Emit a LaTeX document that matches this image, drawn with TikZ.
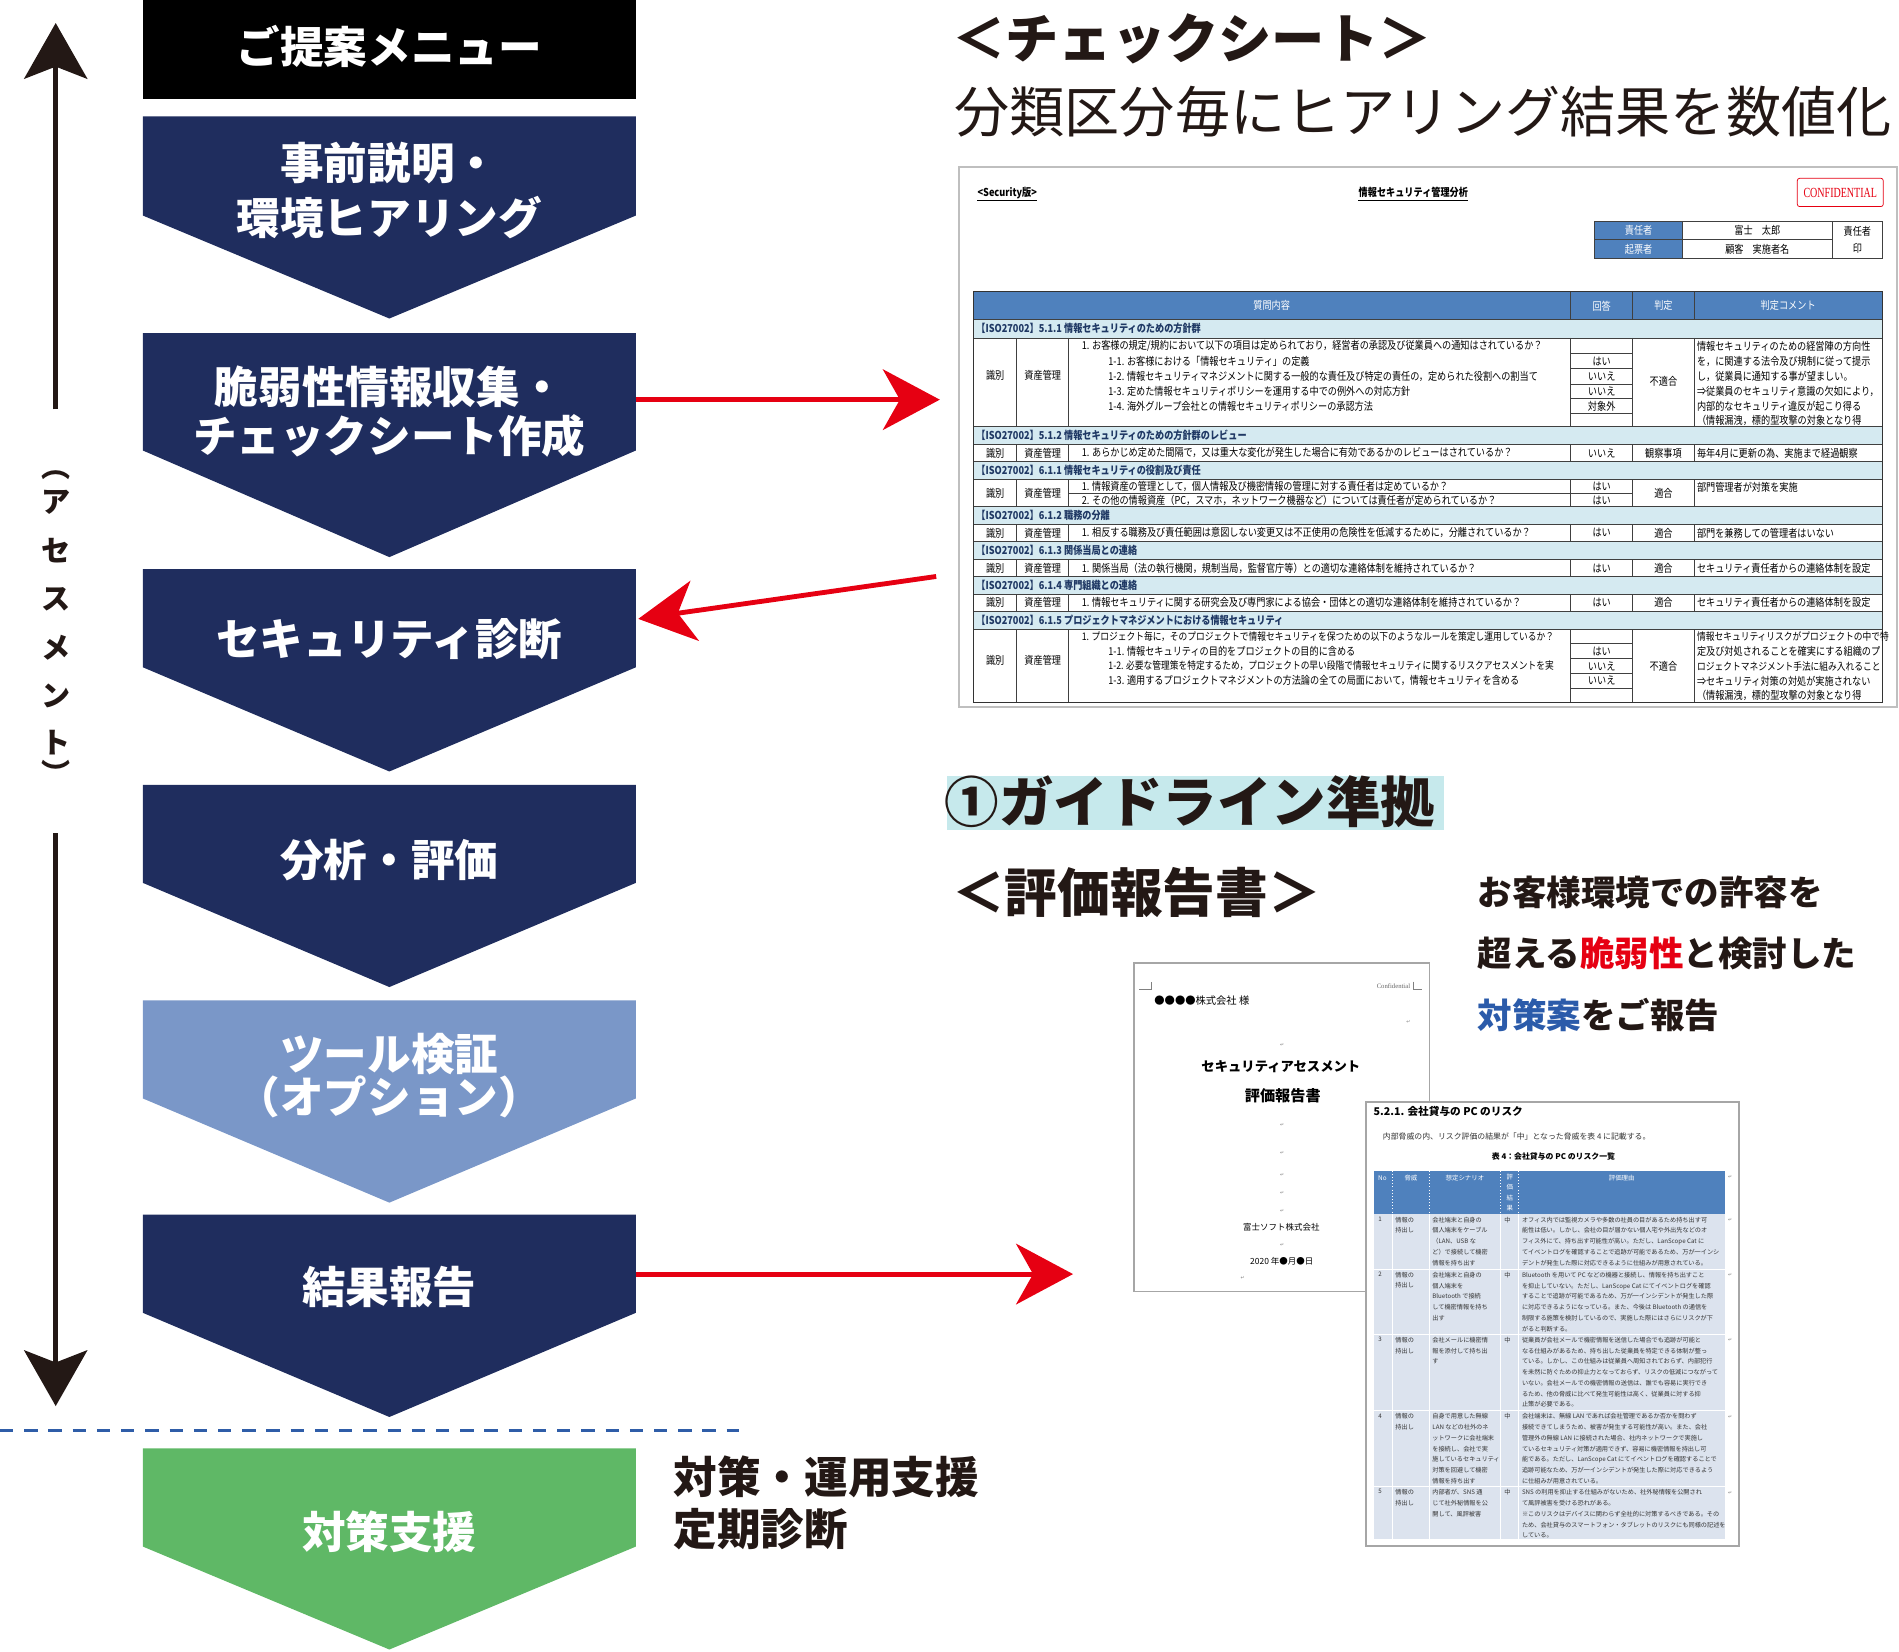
\documentclass[tikz,border=0pt]{standalone}
\usepackage{fontspec}
\setmainfont{Noto Sans CJK JP}
\newfontfamily\jpc{Noto Sans CJK JP}[FakeStretch=0.84]
\newfontfamily\conff{Liberation Serif}[FakeStretch=0.72]
\newfontfamily\serf{Liberation Serif}
\newfontfamily\symf{DejaVu Sans}
\usetikzlibrary{arrows.meta}
\newcommand\myfs[2]{\fontsize{#1}{#2}\selectfont}
\definecolor{navy}{HTML}{1F2D5E}
\definecolor{lblue}{HTML}{7A97C8}
\definecolor{grn}{HTML}{5FB866}
\definecolor{redA}{HTML}{E60012}
\definecolor{blk}{HTML}{231815}
\definecolor{blueT}{HTML}{2B5BAA}
\definecolor{cyanbg}{HTML}{C6E9EC}
\definecolor{hdrblue}{HTML}{4F81BD}
\definecolor{secbg}{HTML}{D5EAF1}
\definecolor{secblue}{HTML}{1F3864}
\definecolor{rowbg}{HTML}{DCE3EE}
\definecolor{dashblue}{HTML}{2F5DA8}
\definecolor{pgborder}{HTML}{A6A6A6}
\tikzset{
 chevtxt/.style={text=white, font=\bfseries\myfs{36}{45}, align=center, inner sep=0pt},
 redarr/.style={draw=redA, line width=4pt, -{Stealth[length=47pt,width=50pt,inset=14pt]}},
 blkarr/.style={draw=blk, line width=4.5pt, -{Stealth[length=46pt,width=52pt,inset=10pt]}},
 cst/.style={font=\jpc\myfs{9}{11}, inner sep=0pt, text=black},
 csw/.style={cst, anchor=west},
 cswn/.style={csw, font=\jpc\myfs{8.6}{11}},
 secT/.style={font=\jpc\bfseries\myfs{9}{11}, text=secblue, anchor=west, inner sep=0pt},
 gridl/.style={draw=black!75, line width=0.6pt},
 pg/.style={font=\myfs{5.1}{8.9}, inner sep=0pt, anchor=north west, align=left, text=black!80},
 pgh/.style={font=\myfs{5.3}{8.5}, inner sep=0pt, text=white},
 rmkS/.style={font=\symf\myfs{4}{5}, text=gray, inner sep=0pt},
 vtxt/.style={font=\bfseries\myfs{24}{24}, text=blk, inner sep=0pt},
 bigT/.style={font=\bfseries\myfs{44}{50}, text=blk, inner sep=0pt, anchor=west},
 desc/.style={font=\bfseries\myfs{28.5}{30}, text=blk, inner sep=0pt, anchor=west},
}
\begin{document}
\begin{tikzpicture}[x=1pt,y=-1pt]
\useasboundingbox (0,0) rectangle (1568,1364);

% ---------------- left column ----------------
\fill[black] (118,0) rectangle (525,82);
\node[chevtxt] (hdr) at (321.5,38) {ご提案メニュー};

\fill[navy] (118,96) -- (525,96) -- (525,178) -- (321.5,263) -- (118,178) -- cycle;
\fill[navy] (118,275) -- (525,275) -- (525,372) -- (321.5,460) -- (118,372) -- cycle;
\fill[navy] (118,470) -- (525,470) -- (525,551) -- (321.5,637) -- (118,551) -- cycle;
\fill[navy] (118,648) -- (525,648) -- (525,729) -- (321.5,815) -- (118,729) -- cycle;
\fill[lblue] (118,826) -- (525,826) -- (525,907) -- (321.5,993) -- (118,907) -- cycle;
\fill[navy] (118,1003) -- (525,1003) -- (525,1084) -- (321.5,1170) -- (118,1084) -- cycle;
\fill[grn] (118,1196) -- (525,1196) -- (525,1277) -- (321.5,1362) -- (118,1277) -- cycle;

\node[chevtxt] (c1) at (321.5,157.5) {事前説明・\\環境ヒアリング};
\node[chevtxt, font=\bfseries\myfs{36}{40}] (c2) at (321.5,340) {脆弱性情報収集・\\チェックシート作成};
\node[chevtxt] (c3) at (321.5,528) {セキュリティ診断};
\node[chevtxt] (c4) at (321.5,710) {分析・評価};
\node[chevtxt, font=\bfseries\myfs{36}{34}] (c5) at (321.5,888) {ツール検証\\（オプション）};
\node[chevtxt] (c6) at (321.5,1063) {結果報告};
\node[chevtxt] (c7) at (321.5,1265) {対策支援};

\node[font=\bfseries\myfs{36}{43}, text=blk, align=left, anchor=west, inner sep=0pt] (ops) at (556,1241) {対策・運用支援\\定期診断};

% vertical arrows
\coordinate (up0) at (46,338); \coordinate (up1) at (46,19);
\coordinate (dn0) at (46,688); \coordinate (dn1) at (46,1161);
\draw[blkarr] (up0) -- (up1);
\draw[blkarr] (dn0) -- (dn1);
\node[vtxt] (v0) at (46,392) {︵};
\node[vtxt] (v1) at (46,415) {ア};
\node[vtxt] (v2) at (46,455) {セ};
\node[vtxt] (v3) at (46,495) {ス};
\node[vtxt] (v4) at (46,535) {メ};
\node[vtxt] (v5) at (46,575) {ン};
\node[vtxt] (v6) at (46,613) {ト};
\node[vtxt] (v7) at (46,638) {︶};

% dashed separator
\coordinate (d0) at (0,1181); \coordinate (d1) at (610,1181);
\draw[dashblue, line width=2.2pt, dash pattern=on 11pt off 9pt] (d0) -- (d1);

% ---------------- headings right ----------------
\node[bigT] (t1) at (786,32) {＜チェックシート＞};
\node[font=\myfs{45.5}{50}, text=blk, inner sep=0pt, anchor=west] (t2) at (788,92) {分類区分毎にヒアリング結果を数値化};
\fill[cyanbg] (782,641) rectangle (1192,685);
\node[bigT, font=\bfseries\myfs{45}{50}] (gl) at (780,662) {①ガイドライン準拠};
\node[bigT, font=\bfseries\myfs{43.5}{50}] (t3) at (786,737) {＜評価報告書＞};
\node[desc] (e1) at (1220,737) {お客様環境での許容を};
\node[desc] (e2) at (1220,787) {超える{\color{redA}脆弱性}と検討した};
\node[desc] (e3) at (1220,838) {{\color{blueT}対策案}をご報告};

% ---------------- check sheet ----------------
\draw[draw=black!25, line width=1.5pt, fill=white] (792,138) rectangle (1566,584);
\node[font=\jpc\bfseries\myfs{9}{11}, inner sep=0pt, anchor=west] (sv) at (807,159) {<Security版>};
\draw[line width=0.6pt] ([yshift=-1.5pt]sv.south west) -- ([yshift=-1.5pt]sv.south east);
\node[font=\jpc\bfseries\myfs{9}{11}, inner sep=0pt] (st) at (1167,159) {情報セキュリティ管理分析};
\draw[line width=0.6pt] ([yshift=-1.5pt]st.south west) -- ([yshift=-1.5pt]st.south east);
\draw[redA, line width=0.6pt, rounded corners=2pt] (1484,147.2) rectangle (1555,170.6);
\node[font=\conff\myfs{11.5}{12}, text=redA, inner sep=0pt] (conf) at (1519.5,159) {CONFIDENTIAL};

% signature table
\fill[hdrblue] (1316.7,182.5) rectangle (1389.2,213.3);
\draw[gridl] (1316.7,182.5) rectangle (1554,213.3);
\draw[gridl] (1389.2,182.5) -- (1389.2,213.3) (1513.2,182.5) -- (1513.2,213.3) (1316.7,197.9) -- (1513.2,197.9);
\node[cst, text=white] (s1) at (1353,190.2) {責任者};
\node[cst, text=white] (s2) at (1353,205.6) {起票者};
\node[cst] (s3) at (1451,190.2) {富士　太郎};
\node[cst] (s4) at (1451,205.6) {顧客　実施者名};
\node[cst, align=center, font=\jpc\myfs{9}{14}] (s5) at (1533.6,197.9) {責任者\\印};

% main table
\fill[hdrblue] (804,241) rectangle (1554,264);
\foreach \a/\b in {264/279, 352/367, 381/396, 418/433, 447/462, 476/490.5, 505/519.5}
  \fill[secbg] (804,\a) rectangle (1554,\b);
\foreach \y in {264,279,352,367,381,396,418,433,447,462,476,490.5,505,519.5}
  \draw[gridl] (804,\y) -- (1554,\y);
\foreach \a/\b in {279/352, 367/381, 396/418, 433/447, 462/476, 490.5/505, 519.5/580}
  \draw[gridl] (839.5,\a) -- (839.5,\b) (882,\a) -- (882,\b) (1297,\a) -- (1297,\b) (1348,\a) -- (1348,\b) (1399,\a) -- (1399,\b);
\draw[gridl] (1297,241) -- (1297,264) (1348,241) -- (1348,264) (1399,241) -- (1399,264);
\draw[draw=black!80, line width=0.9pt] (804,241) rectangle (1554,580);
\foreach \y in {292,304.5,317,329,341.5} \draw[gridl] (1297,\y) -- (1348,\y);
\draw[gridl] (882,407.5) -- (1348,407.5);
\foreach \y in {531.5,543.8,556,568.3} \draw[gridl] (1297,\y) -- (1348,\y);

\node[cst, text=white] (hq) at (1050,252.5) {質問内容};
\node[cst, text=white] (ha) at (1322.5,252.5) {回答};
\node[cst, text=white] (hj) at (1373.5,252.5) {判定};
\node[cst, text=white] (hc) at (1476.5,252.5) {判定コメント};

\node[secT] (sec1) at (806,271.5) {【ISO27002】5.1.1 情報セキュリティのための方針群};
\node[secT] (sec2) at (806,359.5) {【ISO27002】5.1.2 情報セキュリティのための方針群のレビュー};
\node[secT] (sec3) at (806,388.5) {【ISO27002】6.1.1 情報セキュリティの役割及び責任};
\node[secT] (sec4) at (806,425.5) {【ISO27002】6.1.2 職務の分離};
\node[secT] (sec5) at (806,454.5) {【ISO27002】6.1.3 関係当局との連絡};
\node[secT] (sec6) at (806,483.2) {【ISO27002】6.1.4 専門組織との連絡};
\node[secT] (sec7) at (806,512.2) {【ISO27002】6.1.5 プロジェクトマネジメントにおける情報セキュリティ};

\foreach \y [count=\i] in {310,374,407,440,469,497.7,545} {
  \node[cst] (sb\i) at (821.7,\y) {識別};
  \node[cst] (sk\i) at (861,\y) {資産管理};
}

% row 1
\node[csw] (q1) at (893,286) {1. お客様の規定/規約において以下の項目は定められており，経営者の承認及び従業員への通知はされているか？};
\node[csw] (q1a) at (915,298.5) {1-1. お客様における「情報セキュリティ」の定義};
\node[csw] (q1b) at (915,311) {1-2. 情報セキュリティマネジメントに関する一般的な責任及び特定の責任の，定められた役割への割当て};
\node[csw] (q1c) at (915,323) {1-3. 定めた情報セキュリティポリシーを運用する中での例外への対応方針};
\node[csw] (q1d) at (915,335.3) {1-4. 海外グループ会社との情報セキュリティポリシーの承認方法};
\node[cst] (a1a) at (1322.5,298.5) {はい};
\node[cst] (a1b) at (1322.5,310.8) {いいえ};
\node[cst] (a1c) at (1322.5,323) {いいえ};
\node[cst] (a1d) at (1322.5,335.3) {対象外};
\node[cst] (j1) at (1373.5,315) {不適合};
\node[csw] (k1a) at (1401,286) {情報セキュリティのための経営陣の方向性};
\node[csw] (k1b) at (1401,298.5) {を，に関連する法令及び規制に従って提示};
\node[csw] (k1c) at (1401,311) {し，従業員に通知する事が望ましい。};
\node[csw] (k1d) at (1401,323) {⇒従業員のセキュリティ意識の欠如により，};
\node[csw] (k1e) at (1401,335.3) {内部的なセキュリティ違反が起こり得る};
\node[csw] (k1f) at (1401,347.3) {（情報漏洩，標的型攻撃の対象となり得};
% row 2
\node[csw] (q2) at (893,374) {1. あらかじめ定めた間隔で，又は重大な変化が発生した場合に有効であるかのレビューはされているか？};
\node[cst] (a2) at (1322.5,374) {いいえ};
\node[cst] (j2) at (1373.5,374) {観察事項};
\node[csw] (k2) at (1401,374) {毎年4月に更新の為、実施まで経過観察};
% row 3
\node[csw] (q3a) at (893,402) {1. 情報資産の管理として，個人情報及び機密情報の管理に対する責任者は定めているか？};
\node[csw] (q3b) at (893,413) {2. その他の情報資産（PC，スマホ，ネットワーク機器など）については責任者が定められているか？};
\node[cst] (a3a) at (1322.5,402) {はい};
\node[cst] (a3b) at (1322.5,413) {はい};
\node[cst] (j3) at (1373.5,407) {適合};
\node[csw] (k3) at (1401,402) {部門管理者が対策を実施};
% row 4
\node[csw] (q4) at (893,440) {1. 相反する職務及び責任範囲は意図しない変更又は不正使用の危険性を低減するために，分離されているか？};
\node[cst] (a4) at (1322.5,440) {はい};
\node[cst] (j4) at (1373.5,440) {適合};
\node[csw] (k4) at (1401,440) {部門を兼務しての管理者はいない};
% row 5
\node[csw] (q5) at (893,469) {1. 関係当局（法の執行機関，規制当局，監督官庁等）との適切な連絡体制を維持されているか？};
\node[cst] (a5) at (1322.5,469) {はい};
\node[cst] (j5) at (1373.5,469) {適合};
\node[csw] (k5) at (1401,469) {セキュリティ責任者からの連絡体制を設定};
% row 6
\node[csw] (q6) at (893,497.7) {1. 情報セキュリティに関する研究会及び専門家による協会・団体との適切な連絡体制を維持されているか？};
\node[cst] (a6) at (1322.5,497.7) {はい};
\node[cst] (j6) at (1373.5,497.7) {適合};
\node[csw] (k6) at (1401,497.7) {セキュリティ責任者からの連絡体制を設定};
% row 7
\node[cswn] (q7) at (893,525.5) {1. プロジェクト毎に，そのプロジェクトで情報セキュリティを保つための以下のようなルールを策定し運用しているか？};
\node[csw] (q7a) at (915,537.6) {1-1. 情報セキュリティの目的をプロジェクトの目的に含める};
\node[cswn] (q7b) at (915,550) {1-2. 必要な管理策を特定するため，プロジェクトの早い段階で情報セキュリティに関するリスクアセスメントを実};
\node[csw] (q7c) at (915,562.2) {1-3. 適用するプロジェクトマネジメントの方法論の全ての局面において，情報セキュリティを含める};
\node[cst] (a7a) at (1322.5,537.6) {はい};
\node[cst] (a7b) at (1322.5,550) {いいえ};
\node[cst] (a7c) at (1322.5,562.2) {いいえ};
\node[cst] (j7) at (1373.5,550) {不適合};
\node[cswn] (k7a) at (1401,525.5) {情報セキュリティリスクがプロジェクトの中で特};
\node[csw] (k7b) at (1401,537.6) {定及び対処されることを確実にする組織のプ};
\node[cswn] (k7c) at (1401,550) {ロジェクトマネジメント手法に組み入れること};
\node[csw] (k7d) at (1401,562.2) {⇒セキュリティ対策の対処が実施されない};
\node[csw] (k7e) at (1401,574.3) {（情報漏洩，標的型攻撃の対象となり得};

% ---------------- report cover ----------------
\draw[draw=pgborder, line width=1.3pt, fill=white] (936.3,795) rectangle (1180.2,1066.5);
\draw[black!50, line width=0.5pt] (940.7,816.9) -- (950.3,816.9) -- (950.3,810.5);
\draw[black!50, line width=0.5pt] (1166.6,810.5) -- (1166.6,816.9) -- (1174,816.9);
\node[font=\serf\myfs{5.5}{6}, text=black!60, inner sep=0pt, anchor=east] (cconf) at (1164.5,814) {Confidential};
\node[font=\myfs{8.5}{9}, inner sep=0pt, anchor=west] (cust) at (953,826) {●●●●株式会社 様};
\node[font=\bfseries\myfs{11}{12}, inner sep=0pt] (ctitle) at (1057.6,880.7) {セキュリティアセスメント};
\node[font=\bfseries\myfs{12.5}{13}, inner sep=0pt] (ctitle2) at (1059.2,904.7) {評価報告書};
\node[font=\myfs{7}{8}, inner sep=0pt] (ccomp) at (1058,1013) {富士ソフト株式会社};
\node[font=\myfs{7}{8}, inner sep=0pt] (cdate) at (1058.3,1041.7) {2020 年●月●日};
\foreach \x/\y [count=\i] in {1163/843.6, 1058.6/862.9, 1058.6/928.8, 1058.6/952.2, 1058.6/970, 1058.6/985, 1058.6/1000, 1058.6/1028, 1026/1055}
  \node[rmkS] (cr\i) at (\x,\y) {↵};

% ---------------- report page 2 ----------------
\draw[draw=pgborder, line width=1.3pt, fill=white] (1128,910) rectangle (1436,1276.5);
\node[font=\bfseries\myfs{8.8}{10}, inner sep=0pt, anchor=west] (p2t) at (1134,918) {5.2.1. 会社貸与の PC のリスク};
\node[font=\myfs{6.5}{7}, inner sep=0pt, anchor=west, text=black!80] (p2i) at (1141.7,938) {内部脅威の内、リスク評価の結果が「中」となった脅威を表 4 に記載する。};
\node[font=\bfseries\myfs{6.5}{7}, inner sep=0pt] (p2c) at (1282.7,955) {表 4：会社貸与の PC のリスク一覧};
\fill[hdrblue] (1134.5,966.6) rectangle (1424.3,1002.4);
\foreach \x in {1149.6,1180.2,1239.1,1254} \draw[white, dotted, line width=0.6pt] (\x,966.6) -- (\x,1002.4);
\node[pgh] (p2no) at (1141.5,973) {No};
\node[pgh] (p2ky) at (1165,973) {脅威};
\node[pgh] (p2sc) at (1209.6,973) {想定シナリオ};
\node[pgh, anchor=north, align=center] (p2hk) at (1246.6,969.5) {評\\価\\結\\果};
\node[pgh] (p2ri) at (1339,973) {評価理由};
\fill[rowbg] (1134.5,1002.4) rectangle (1424.3,1270.8);
\foreach \y in {1047.9,1101.6,1164.8,1227.5} \draw[white, line width=0.8pt] (1134.5,\y) -- (1424.3,\y);
\foreach \x in {1149.6,1180.2,1239.1,1254} \draw[white, line width=0.8pt] (\x,1002.4) -- (\x,1270.8);

\node[pg] (r1n) at (1138,1004.6) {1};
\node[pg] (r1k) at (1152,1004.6) {情報の\\持出し};
\node[pg] (r1s) at (1182.5,1004.6) {会社端末と自身の\\個人端末をケーブル\\（LAN、USB な\\ど）で接続して機密\\情報を持ち出す};
\node[pg] (r1h) at (1242,1004.6) {中};
\node[pg] (r1r) at (1256.5,1004.6) {オフィス内では監視カメラや多数の社員の目があるため持ち出す可\\能性は低い。しかし、会社の目が届かない個人宅や外出先などのオ\\フィス外にて、持ち出す可能性が高い。ただし、LanScope Cat に\\てイベントログを確認することで追跡が可能であるため、万が一インシ\\デントが発生した際に対応できるように仕組みが用意されている。};

\node[pg] (r2n) at (1138,1050.1) {2};
\node[pg] (r2k) at (1152,1050.1) {情報の\\持出し};
\node[pg] (r2s) at (1182.5,1050.1) {会社端末と自身の\\個人端末を\\Bluetooth で接続\\して機密情報を持ち\\出す};
\node[pg] (r2h) at (1242,1050.1) {中};
\node[pg] (r2r) at (1256.5,1050.1) {Bluetooth を用いて PC などの機器と接続し、情報を持ち出すこと\\を抑止していない。ただし、LanScope Cat にてイベントログを確認\\することで追跡が可能であるため、万が一インシデントが発生した際\\に対応できるようになっている。また、今後は Bluetooth の通信を\\制限する施策を検討しているので、実施した際にはさらにリスクが下\\がると判断する。};

\node[pg] (r3n) at (1138,1103.8) {3};
\node[pg] (r3k) at (1152,1103.8) {情報の\\持出し};
\node[pg] (r3s) at (1182.5,1103.8) {会社メールに機密情\\報を添付して持ち出\\す};
\node[pg] (r3h) at (1242,1103.8) {中};
\node[pg] (r3r) at (1256.5,1103.8) {従業員が会社メールで機密情報を送信した場合でも追跡が可能と\\なる仕組みがあるため、持ち出した従業員を特定できる体制が整っ\\ている。しかし、この仕組みは従業員へ周知されておらず、内部犯行\\を未然に防ぐための抑止力となっておらず、リスクの低減につながって\\いない。会社メールでの機密情報の送信は、誰でも容易に実行でき\\るため、他の脅威に比べて発生可能性は高く、従業員に対する抑\\止策が必要である。};

\node[pg] (r4n) at (1138,1167) {4};
\node[pg] (r4k) at (1152,1167) {情報の\\持出し};
\node[pg] (r4s) at (1182.5,1167) {自身で用意した無線\\LAN などの社外のネ\\ットワークに会社端末\\を接続し、会社で実\\施しているセキュリティ\\対策を回避して機密\\情報を持ち出す};
\node[pg] (r4h) at (1242,1167) {中};
\node[pg] (r4r) at (1256.5,1167) {会社端末は、無線 LAN であれば会社管理であるか否かを問わず\\接続できてしまうため、被害が発生する可能性が高い。また、会社\\管理外の無線 LAN に接続された場合、社内ネットワークで実施し\\ているセキュリティ対策が適用できず、容易に機密情報を持出し可\\能である。ただし、LanScope Cat にてイベントログを確認することで\\追跡可能なため、万が一インシデントが発生した際に対応できるよう\\に仕組みが用意されている。};

\node[pg] (r5n) at (1138,1229.7) {5};
\node[pg] (r5k) at (1152,1229.7) {情報の\\持出し};
\node[pg] (r5s) at (1182.5,1229.7) {内部者が、SNS 通\\じて社外秘情報を公\\開して、風評被害};
\node[pg] (r5h) at (1242,1229.7) {中};
\node[pg] (r5r) at (1256.5,1229.7) {SNS の利用を抑止する仕組みがないため、社外秘情報を公開され\\て風評被害を受ける恐れがある。\\※このリスクはデバイスに関わらず全社的に対策するべきである。その\\ため、会社貸与のスマートフォン・タブレットのリスクにも同様の記述を\\している。};

\foreach \y [count=\i] in {972,1007.4,1052.9,1106.6,1169.8,1232.5}
  \node[rmkS] (pr\i) at (1428.5,\y) {↵};

% ---------------- red arrows ----------------
\coordinate (r1a) at (525,330); \coordinate (r1b) at (776,330);
\coordinate (r2a) at (773,476); \coordinate (r2b) at (527,511);
\coordinate (r3a) at (525,1052); \coordinate (r3b) at (886,1052);
\draw[redarr] (r1a) -- (r1b);
\draw[redarr] (r2a) -- (r2b);
\draw[redarr] (r3a) -- (r3b);
\end{tikzpicture}
\end{document}
